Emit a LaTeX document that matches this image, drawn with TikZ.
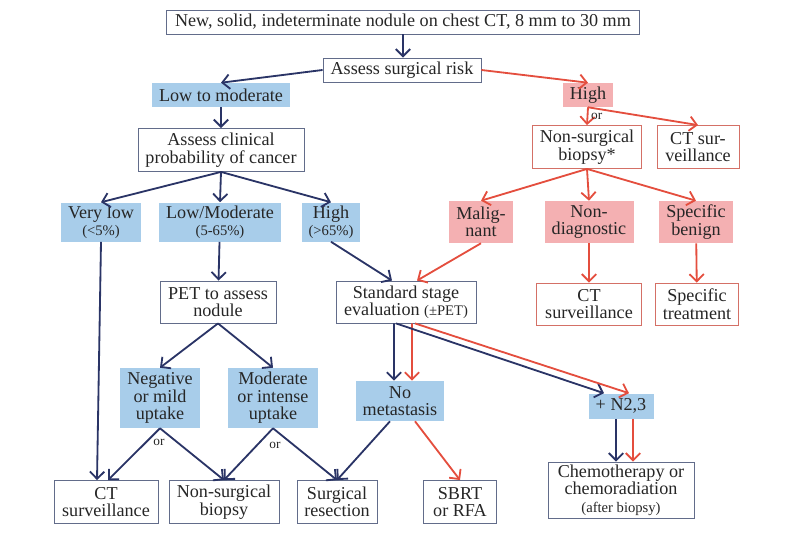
\documentclass[tikz,border=0pt]{standalone}
\usepackage{fontspec}
\setmainfont{Liberation Serif}
\usetikzlibrary{arrows.meta}
\definecolor{navy}{RGB}{42,52,102}
\definecolor{redl}{RGB}{228,78,62}
\definecolor{bluef}{RGB}{168,205,234}
\definecolor{pinkf}{RGB}{244,176,178}
\definecolor{navybd}{RGB}{98,108,138}
\definecolor{redbd}{RGB}{212,112,102}
\newcommand{\sm}[1]{{\fontsize{10.4}{11}\selectfont #1}}

\begin{document}
\begin{tikzpicture}[
    every node/.style={font=\fontsize{12.9}{12.4}\selectfont, text=black!85, inner sep=0pt, align=center},
    wbox/.style={draw=navybd, line width=0.6pt, fill=white},
    rbox/.style={draw=redbd, line width=0.6pt, fill=white},
    bbox/.style={fill=bluef},
    pbox/.style={fill=pinkf},
    narr/.style={navy, line width=1.3pt, -{Straight Barb[length=1.8mm,width=3.6mm]}},
    rarr/.style={redl, line width=1.3pt, -{Straight Barb[length=1.8mm,width=3.6mm]}},
    orsty/.style={font=\fontsize{9.5}{10}\selectfont}]
    \useasboundingbox (0,0) rectangle (20.025,13.525);
    % boxes, top to bottom
    \node[wbox, minimum width=11.825cm, minimum height=0.6cm] (nod) at (10.075,12.975) {New, solid, indeterminate nodule on chest CT, 8 mm to 30 mm};
    \node[wbox, minimum width=3.95cm, minimum height=0.6cm] (risk) at (10.05,11.775) {Assess surgical risk};
    \node[bbox, minimum width=3.45cm, minimum height=0.6cm] (lowmod) at (5.525,11.15) {Low to moderate};
    \node[pbox, minimum width=1.25cm, minimum height=0.6cm] (high) at (14.7,11.15) {High};
    \node[rbox, minimum width=2.725cm, minimum height=1.075cm] (nsb) at (14.675,9.85) {Non-surgical\\biopsy*};
    \node[rbox, minimum width=2.05cm, minimum height=1.075cm] (ctsr) at (17.45,9.85) {CT sur-\\veillance};
    \node[wbox, minimum width=4.15cm, minimum height=1.075cm] (clin) at (5.525,9.775) {Assess clinical\\probability of cancer};
    \node[bbox, minimum width=2.0cm, minimum height=0.975cm] (vlow) at (2.525,7.975) {Very low\\\sm{(<5\%)}};
    \node[bbox, minimum width=3.05cm, minimum height=0.975cm] (lmod) at (5.5,7.975) {Low/Moderate\\\sm{(5-65\%)}};
    \node[bbox, minimum width=1.45cm, minimum height=0.975cm] (hi) at (8.275,7.975) {High\\\sm{(>65\%)}};
    \node[pbox, minimum width=1.6cm, minimum height=1.05cm] (malig) at (12.025,7.975) {Malig-\\nant};
    \node[pbox, minimum width=2.225cm, minimum height=1.05cm] (nondiag) at (14.725,7.975) {Non-\\diagnostic};
    \node[pbox, minimum width=1.85cm, minimum height=1.05cm] (specben) at (17.4,7.975) {Specific\\benign};
    \node[wbox, minimum width=2.9cm, minimum height=1.05cm] (pet) at (5.45,5.975) {PET to assess\\nodule};
    \node[wbox, minimum width=3.5cm, minimum height=1.05cm] (sse) at (10.15,5.975) {Standard stage\\evaluation \sm{(\textpm PET)}};
    \node[rbox, minimum width=2.625cm, minimum height=1.05cm] (ctsr2) at (14.725,5.925) {CT\\surveillance};
    \node[rbox, minimum width=2.075cm, minimum height=1.05cm] (spectr) at (17.425,5.925) {Specific\\treatment};
    \node[bbox, minimum width=2.0cm, minimum height=1.5cm] (neg) at (4.0,3.575) {Negative\\or mild\\uptake};
    \node[bbox, minimum width=2.25cm, minimum height=1.5cm] (modint) at (6.825,3.575) {Moderate\\or intense\\uptake};
    \node[bbox, minimum width=2.2cm, minimum height=1.0cm] (nomet) at (10.0,3.5) {No\\metastasis};
    \node[bbox, minimum width=1.625cm, minimum height=0.625cm] (n23) at (15.525,3.375) {+ N2,3};
    \node[wbox, minimum width=2.6cm, minimum height=1.075cm] (ctsb) at (2.65,0.975) {CT\\surveillance};
    \node[wbox, minimum width=2.75cm, minimum height=1.075cm] (nsbb) at (5.6,0.975) {Non-surgical\\biopsy};
    \node[wbox, minimum width=2.0cm, minimum height=1.075cm] (surg) at (8.425,0.975) {Surgical\\resection};
    \node[wbox, minimum width=1.825cm, minimum height=1.075cm] (sbrt) at (11.5,0.975) {SBRT\\or RFA};
    \node[wbox, minimum width=3.65cm, minimum height=1.4cm] (chemo) at (15.525,1.275) {Chemotherapy or\\chemoradiation\\\sm{(after biopsy)}};
    \node[orsty] (or2) at (3.975,2.475) {or};
    \node[orsty] (or3) at (6.875,2.4) {or};
    % arrows
    \draw[narr] (nod.south) -- (nod.south |- risk.north);
    \draw[narr] (risk.west) -- (lowmod.north);
    \draw[rarr] (risk.east) -- (high.north);
    \draw[narr] (lowmod) -- (clin);
    \draw[rarr] (high.south) -- (nsb.north) node[midway, right=2pt, orsty] {or};
    \draw[rarr] (high.south) -- (ctsr.north);
    \draw[narr] (clin.south) -- (vlow.north);
    \draw[narr] (clin.south) -- (lmod.north);
    \draw[narr] (clin.south) -- (hi.north);
    \draw[rarr] (nsb.south) -- (malig.north);
    \draw[rarr] (nsb.south) -- (nondiag.north);
    \draw[rarr] (nsb.south) -- (specben.north);
    \draw[narr] (vlow.south) -- ([xshift=-0.225cm]ctsb.north);
    \draw[narr] (lmod) -- (pet);
    \draw[narr] (hi.south) -- ([xshift=-0.35cm]sse.north);
    \draw[rarr] (malig.south) -- ([xshift=0.275cm]sse.north);
    \draw[rarr] (nondiag) -- (ctsr2);
    \draw[rarr] (specben) -- (spectr);
    \draw[narr] (pet.south) -- (neg.north);
    \draw[narr] (pet.south) -- (modint.north);
    \draw[narr] ([xshift=-0.3cm]sse.south) -- ([xshift=-0.15cm]nomet.north);
    \draw[rarr] ([xshift=0.15cm]sse.south) -- ([xshift=0.3cm]nomet.north);
    \draw[narr] ([xshift=-0.25cm]sse.south) -- ([xshift=-0.425cm]n23.north);
    \draw[rarr] ([xshift=0.225cm]sse.south) -- ([xshift=0.2cm]n23.north);
    \draw[narr] ([xshift=-0.125cm]n23.south) -- ([xshift=-0.125cm]chemo.north);
    \draw[rarr] ([xshift=0.3cm]n23.south) -- ([xshift=0.3cm]chemo.north);
    \draw[narr] (neg.south) -- ([xshift=0.05cm]ctsb.north);
    \draw[narr] (neg.south) -- (nsbb.north);
    \draw[narr] (modint.south) -- (nsbb.north);
    \draw[narr] (modint.south) -- (surg.north);
    \draw[narr] ([xshift=-0.25cm]nomet.south) -- (surg.north);
    \draw[rarr] ([xshift=0.375cm]nomet.south) -- (sbrt.north);
\end{tikzpicture}
\end{document}
